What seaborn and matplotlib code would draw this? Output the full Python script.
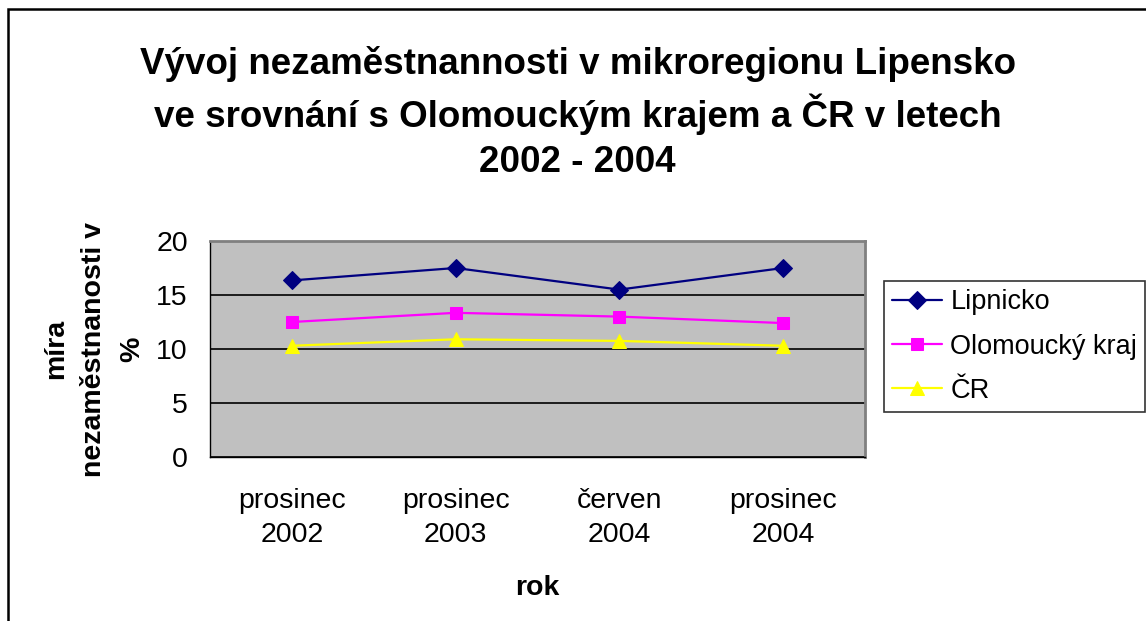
import matplotlib
matplotlib.use("Agg")
import matplotlib.pyplot as plt
import matplotlib.patches as patches
import seaborn as sns
import pandas as pd

# data
obdobi = ["prosinec\n2002", "prosinec\n2003", "červen\n2004", "prosinec\n2004"]
lipnicko = [16.35, 17.5, 15.5, 17.5]
olomoucky_kraj = [12.5, 13.35, 13.0, 12.4]
cr = [10.3, 10.9, 10.75, 10.3]

serie = ["Lipnicko", "Olomoucký kraj", "ČR"]
barvy = ["#000080", "#FF00FF", "#FFFF00"]
znacky = ["D", "s", "^"]
velikosti = [9, 8, 10]


def main():
    sns.set_style("white")
    plt.rcParams["font.family"] = ["Liberation Sans", "DejaVu Sans"]
    for k in ["text.color", "axes.labelcolor", "xtick.color", "ytick.color"]:
        plt.rcParams[k] = "black"

    df = pd.DataFrame({
        "rok": obdobi * 3,
        "hodnota": lipnicko + olomoucky_kraj + cr,
        "serie": [s for s in serie for _ in obdobi],
    })

    fig = plt.figure(figsize=(11.46, 6.21), dpi=100)
    ax = fig.add_axes([210 / 1146, 1 - 457 / 621, 655 / 1146, 216 / 621])
    ax.set_facecolor("#C0C0C0")

    for s, c, m, ms in zip(serie, barvy, znacky, velikosti):
        sub = df[df["serie"] == s]
        sns.lineplot(data=sub, x="rok", y="hodnota", ax=ax, color=c, marker=m,
                     markersize=ms, markeredgecolor=c, linewidth=1.6,
                     label=s, sort=False, zorder=3)

    ax.set_ylim(0, 20)
    ax.set_yticks([0, 5, 10, 15, 20])
    ax.set_xlim(-0.5, len(obdobi) - 0.5)
    ax.set_xticks(range(len(obdobi)))
    ax.set_xticklabels(obdobi, fontsize=20.5, linespacing=1.4)
    ax.set_xticks([i - 0.5 for i in range(len(obdobi) + 1)], minor=True)
    ax.tick_params(axis="x", which="major", length=0, pad=22)
    ax.tick_params(axis="x", which="minor", length=8, width=1, color="black", direction="out")
    ax.tick_params(axis="y", length=8, width=1, color="black", direction="out",
                   labelsize=20.5, pad=8)
    ax.yaxis.grid(True, color="black", linewidth=1.2)
    ax.set_axisbelow(True)

    for side in ["top", "right"]:
        ax.spines[side].set_color("#808080")
        ax.spines[side].set_linewidth(2)
    ax.spines["left"].set_color("black")
    ax.spines["bottom"].set_color("black")
    ax.spines["left"].set_linewidth(1)
    ax.spines["bottom"].set_linewidth(1)

    ax.set_xlabel("rok", fontsize=20.5, fontweight="bold", labelpad=20)
    ax.set_ylabel("míra\nnezaměstnanosti v\n%", fontsize=20.5, fontweight="bold",
                  linespacing=1.6, labelpad=8)

    leg = ax.legend(loc="upper left", bbox_to_anchor=(884 / 1146, 1 - 281 / 621),
                    bbox_transform=fig.transFigure, fontsize=19.5, frameon=True,
                    fancybox=False, edgecolor="black", borderpad=0.3,
                    handlelength=1.85, handletextpad=0.3, labelspacing=0.68,
                    borderaxespad=0)
    leg.get_frame().set_linewidth(1.2)

    fig.text(0.504, 1 - 113 / 621,
             "Vývoj nezaměstnannosti v mikroregionu Lipensko\n"
             "ve srovnání s Olomouckým krajem a ČR v letech\n2002 - 2004",
             ha="center", va="center", fontsize=26.5, fontweight="bold", linespacing=1.36)

    ramecek = patches.Rectangle((8 / 1146, -0.1), 1.2, 1.1 - 9 / 621,
                                transform=fig.transFigure, fill=False,
                                edgecolor="black", linewidth=1.8)
    fig.patches.append(ramecek)

    fig.savefig("out.png", dpi=100, facecolor="white")


if __name__ == "__main__":
    main()
